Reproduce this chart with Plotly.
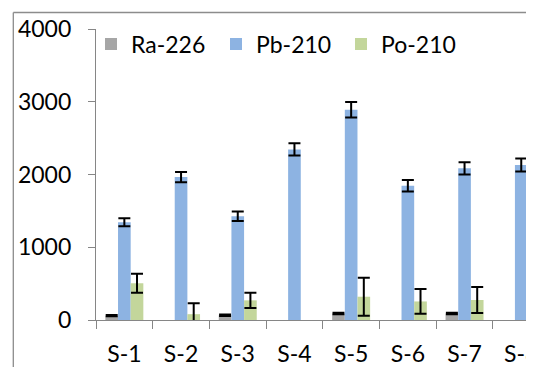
import plotly.graph_objects as go

categories = ["S-1", "S-2", "S-3", "S-4", "S-5", "S-6", "S-7", "S-8"]
ra226 = [60, None, 65, None, 90, None, 90, None]
ra226_err = [10, None, 10, None, 10, None, 10, None]
pb210 = [1345, 1965, 1425, 2345, 2890, 1845, 2085, 2130]
pb210_err = [55, 70, 65, 85, 105, 80, 85, 90]
po210 = [505, 80, 270, None, 320, 255, 275, None]
po210_err = [130, 150, 105, None, 260, 170, 180, None]
y_ticks = [0, 1000, 2000, 3000, 4000]

FONT = "Lato"
OFF = 8  # page body margin offset in the browser
VW, VH = 534, 367          # browser window
W, H = VW - OFF, VH - OFF  # figure fits exactly inside the window
L, R, T = 96 - OFF, 0, 29 - OFF
B = H - (320 - OFF)
pw, ph = W - L - R, H - T - B
cat_px = 56.7

def err(arr):
    return dict(type="data", array=arr, visible=True, color="black", thickness=2, width=6)

fig = go.Figure()
fig.add_bar(name="Ra-226", x=categories, y=ra226, marker=dict(color="#A6A6A6", line_width=0),
            error_y=err(ra226_err))
fig.add_bar(name="Pb-210", x=categories, y=pb210, marker=dict(color="#8DB3E2", line_width=0),
            error_y=err(pb210_err))
fig.add_bar(name="Po-210", x=categories, y=po210, marker=dict(color="#C3D69B", line_width=0),
            error_y=err(po210_err))

def px_x(p):
    # screen pixel -> paper x
    return (p - OFF - L) / pw

def px_y(p):
    # screen pixel -> paper y
    return 1 - (p - OFF - T) / ph

fig.add_shape(type="line", xref="paper", yref="paper", x0=px_x(13.3), x1=px_x(13.3),
              y0=px_y(12.5), y1=px_y(VH + 20), line=dict(color="#8C8C8C", width=1.3))
fig.add_shape(type="line", xref="paper", yref="paper", x0=px_x(13.3), x1=px_x(VW + 20),
              y0=px_y(12.5), y1=px_y(12.5), line=dict(color="#8C8C8C", width=1.3))

fig.update_layout(
    width=W, height=H,
    margin=dict(l=L, r=R, t=T, b=B, pad=0, autoexpand=False),
    paper_bgcolor="white", plot_bgcolor="white",
    barmode="group", bargap=0.33, bargroupgap=0,
    font=dict(family=FONT, size=23, color="black"),
    showlegend=True,
    legend=dict(orientation="h", x=px_x(91), y=px_y(22.5), xanchor="left", yanchor="top",
                entrywidth=80, entrywidthmode="pixels",
                font=dict(family=FONT, size=23, color="black"),
                bgcolor="rgba(0,0,0,0)", itemclick=False),
    xaxis=dict(type="category", range=[-0.5, -0.5 + pw / cat_px], automargin=False,
               showline=True, linecolor="#868686", linewidth=1.3,
               ticks="outside", tickson="boundaries", ticklen=8, tickcolor="#868686", tickwidth=1.3,
               showgrid=False, zeroline=False, ticklabelstandoff=13,
               tickfont=dict(family=FONT, size=23, color="black")),
    yaxis=dict(range=[0, 4000], tickvals=y_ticks, ticktext=[str(v) for v in y_ticks], automargin=False,
               showline=True, linecolor="#868686", linewidth=1.3,
               ticks="outside", ticklen=7, tickcolor="#868686", tickwidth=1.3,
               showgrid=False, zeroline=False, ticklabelstandoff=12,
               tickfont=dict(family=FONT, size=23, color="black")),
)

fig.write_html("out.html")
